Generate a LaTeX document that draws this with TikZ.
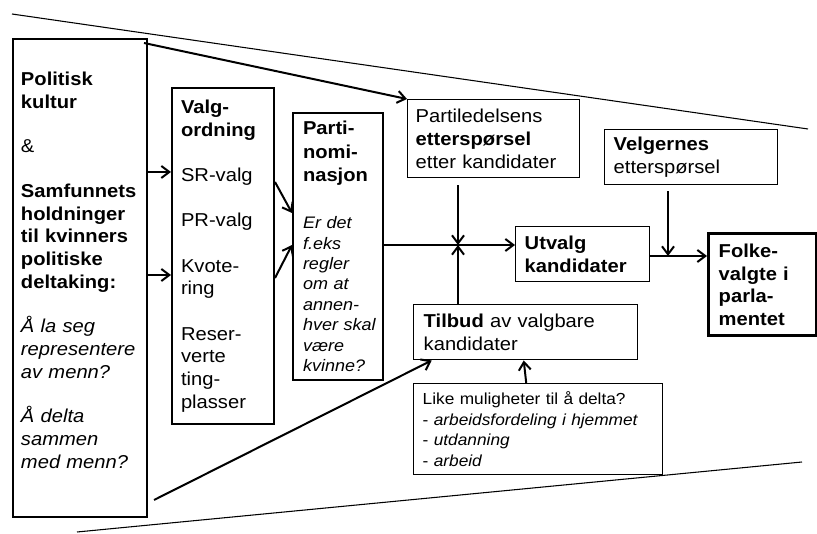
\documentclass[tikz,border=0pt]{standalone}
\usepackage{fontspec}
\setmainfont{Liberation Sans}[FakeStretch=1.08]
\usepackage{tikz}
\usetikzlibrary{arrows.meta, calc}
\newcommand{\txtbig}{\fontsize{14pt}{17pt}\selectfont}
\newcommand{\txtital}{\fontsize{12.5pt}{15.3pt}\selectfont\itshape}
\newcommand{\txtlike}{\fontsize{12pt}{15.5pt}\selectfont}

\begin{document}
\begin{tikzpicture}[
  x=0.75pt, y=-0.75pt,
  blk/.style={rectangle, draw, line width=1.5pt, anchor=north west, align=left,
              inner ysep=0pt, font=\txtbig},
  thin/.style={blk, line width=1.1pt},
  arr/.style={-{Straight Barb[length=6pt, width=9pt]}, line width=1.5pt},
  funnel/.style={line width=0.8pt},
]
  \useasboundingbox (0,0) rectangle (817,534);

  % Funnel
  \draw[funnel] (12,14) -- (808,129);
  \draw[funnel] (77,532) -- (802,462);

  % Left block
  \node[blk, minimum width=100.5pt, minimum height=358.5pt, text width=88.5pt, inner xsep=6pt]
    (lft) at (12,38) {\textbf{Politisk}\\ \textbf{kultur}\\[16.5pt] \&\\[16.5pt]
      \textbf{Samfunnets}\\ \textbf{holdninger}\\ \textbf{til~kvinners}\\ \textbf{politiske}\\
      \textbf{deltaking:}\\[16.5pt] \textit{Å~la~seg}\\ \textit{representere}\\ \textit{av~menn?}\\[16.5pt]
      \textit{Å~delta}\\ \textit{sammen}\\ \textit{med~menn?}\\[-5pt]\mbox{}};
  \node[blk, minimum width=76.5pt, minimum height=252pt, text width=63pt, inner xsep=6.75pt]
    (valg) at (171,87) {\textbf{Valg-}\\ \textbf{ordning}\\[17pt] SR-valg\\[17pt] PR-valg\\[17pt]
      Kvote-\\ ring\\[17pt] Reser-\\ verte\\ ting-\\ plasser};
  \node[blk, minimum width=67.5pt, minimum height=200.25pt, text width=52.5pt, inner xsep=7.5pt, font=\txtital]
    (parti) at (292,112) {{\txtbig\upshape\bfseries Parti-}\\[2.3pt] {\txtbig\upshape\bfseries nomi-}\\[2.3pt]
      {\txtbig\upshape\bfseries nasjon}\\[20pt] Er~det\\ f.eks\\ regler\\ om~at\\ annen-\\ hver~skal\\ være\\ kvinne?};

  % Demand side
  \node[thin, minimum width=129pt, minimum height=58.5pt, text width=117pt, inner xsep=6pt]
    (pl) at (407,99) {Partiledelsens\\ \textbf{etterspørsel}\\ etter~kandidater};
  \node[thin, minimum width=129.75pt, minimum height=41.25pt, text width=116.25pt, inner xsep=6.75pt]
    (vel) at (604,129) {\textbf{Velgernes}\\ etterspørsel};
  \node[thin, minimum width=100.5pt, minimum height=41.25pt, text width=87pt, inner xsep=6.75pt, font=\txtbig\bfseries]
    (utv) at (515,226) {Utvalg\\ kandidater};
  \node[blk, line width=2.6pt, minimum width=81pt, minimum height=76.5pt, text width=66pt, inner xsep=7.5pt, font=\txtbig\bfseries]
    (folke) at (707,232) {Folke-\\ valgte~i\\ parla-\\ mentet};

  % Supply side
  \node[thin, minimum width=168pt, minimum height=41.25pt, text width=153pt, inner xsep=7.5pt]
    (tilb) at (413,304) {\textbf{Tilbud} av~valgbare\\ kandidater};
  \node[thin, minimum width=186.75pt, minimum height=68.25pt, text width=173.25pt, inner xsep=6.75pt, font=\txtlike]
    (like) at (413,383) {Like~muligheter~til~å~delta?\\ - \textit{arbeidsfordeling~i~hjemmet}\\
      - \textit{utdanning}\\ - \textit{arbeid}};

  \coordinate (jn) at (458,245);
  \coordinate (jv) at (668,256);

  % Arrows
  \draw[arr] ([shift={(-4,5)}]lft.north east) -- (pl.north west);
  \draw[arr] (lft.east |- 0,172) -- (valg.west |- 0,172);
  \draw[arr] (lft.east |- 0,275) -- (valg.west |- 0,275);
  \draw[arr] (valg.east |- 0,182) -- (parti.west |- 0,213);
  \draw[arr] (valg.east |- 0,278) -- (parti.west |- 0,245);
  \draw[arr] (parti.east |- jn) -- (utv.west |- jn);
  \draw[arr] ([yshift=-5pt]pl.south -| jn) -- (jn);
  \draw[arr] (tilb.north -| jn) -- (jn);
  \draw[arr] (utv.east |- jv) -- (folke.west |- jv);
  \draw[arr] ([yshift=-4.5pt]vel.south -| jv) -- (jv);
  \draw[arr] ([shift={(6,-18)}]lft.south east) -- ([xshift=14pt]tilb.south west);
  \draw[arr] ([xshift=-9pt]like.north) -- ([xshift=-1.5pt]tilb.south);
\end{tikzpicture}
\end{document}
